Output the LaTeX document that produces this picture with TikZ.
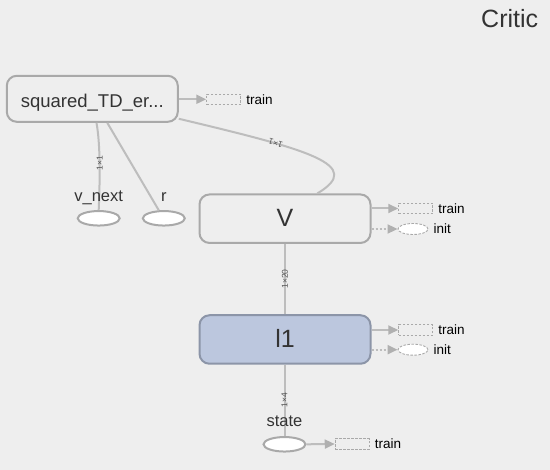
\documentclass[tikz,border=0pt]{standalone}
\usepackage{fontspec}
\setmainfont{Liberation Sans}
\usetikzlibrary{arrows.meta,shapes.geometric}
\definecolor{bg}{HTML}{EEEEEE}
\definecolor{boxline}{HTML}{A9A9A9}
\definecolor{edgecol}{HTML}{BDBDBD}
\definecolor{tipcol}{HTML}{B0B0B0}
\definecolor{lfill}{HTML}{BCC7DE}
\definecolor{lline}{HTML}{8C95A8}
\definecolor{txt}{HTML}{333333}
\definecolor{etxt}{HTML}{555555}
\begin{document}
\begin{tikzpicture}[x=1pt,y=-1pt,
 opbox/.style={draw=boxline, line width=2pt, rounded corners=10pt, fill=bg,
   minimum width=171pt, inner sep=0pt, text=txt, text depth=0pt},
 phnode/.style={ellipse, draw=boxline, line width=2pt, fill=white,
   minimum width=42pt, minimum height=14.5pt, inner sep=0pt},
 phlabel/.style={anchor=base, text=txt, font=\fontsize{16.5}{16.5}\selectfont, inner sep=0pt},
 trainbox/.style={draw=boxline, line width=0.9pt, dash pattern=on 2.5pt off 1.5pt,
   minimum width=34pt, minimum height=10.5pt, inner sep=0pt, fill=bg},
 initell/.style={ellipse, draw=boxline, line width=0.9pt, dash pattern=on 2.5pt off 1.5pt,
   fill=white, minimum width=30pt, minimum height=11pt, inner sep=0pt},
 auxtext/.style={anchor=west, font=\fontsize{13.5}{13.5}\selectfont, inner sep=0pt, text=black},
 ctrl/.style={draw=edgecol, line width=2pt, -{Triangle[length=10pt,width=9pt,fill=tipcol,color=tipcol]}},
 depline/.style={ctrl, dash pattern=on 2pt off 2pt},
 flow/.style={draw=edgecol, line width=2pt},
 elabel/.style={font=\fontsize{8.5}{8.5}\selectfont, text=etxt, inner sep=0.5pt},
]
\fill[bg] (0,0) rectangle (550,470);
\useasboundingbox (0,0) rectangle (550,470);

% title
\node[font=\fontsize{25}{25}\selectfont, text=txt, anchor=base, inner sep=0pt] (critic) at (509.7,27.3) {Critic};

% op boxes
\node[opbox, minimum height=46pt, text height=17pt, font=\fontsize{18.5}{18.5}\selectfont] (sq) at (92.3,98.8) {squared\_TD\_er...};
\node[opbox, minimum height=48.5pt, text height=16.5pt, font=\fontsize{25}{25}\selectfont] (V) at (285,218.7) {V};
\node[opbox, fill=lfill, draw=lline, minimum height=48.5pt, text height=16.5pt, font=\fontsize{25}{25}\selectfont] (l1) at (285,339.5) {l1};

% placeholders
\node[phnode] (vnext) at (98.7,218.3) {};
\node[phnode] (r) at (163.8,218.3) {};
\node[phnode] (state) at (284.5,444.3) {};

% auxiliary train / init
\node[trainbox] (sqtrain) at (223.7,99.3) {};
\node[auxtext] (sqtraint) at ([xshift=5pt]sqtrain.east) {train};
\node[trainbox] (Vtrain) at (415.7,208.5) {};
\node[auxtext] (Vtraint) at ([xshift=5pt]Vtrain.east) {train};
\node[initell] (Vinit) at (413,229) {};
\node[auxtext] (Vinitt) at ([xshift=5pt]Vinit.east) {init};
\node[trainbox] (ltrain) at (415.7,330) {};
\node[auxtext] (ltraint) at ([xshift=5pt]ltrain.east) {train};
\node[initell] (linit) at (413,349.7) {};
\node[auxtext] (linitt) at ([xshift=5pt]linit.east) {init};
\node[trainbox] (strain) at (352.2,444) {};
\node[auxtext] (straint) at ([xshift=5pt]strain.east) {train};

% control / init connectors
\draw[ctrl] (sq.east |- sqtrain.west) -- (sqtrain.west);
\draw[ctrl] (V.east |- Vtrain.west) -- (Vtrain.west);
\draw[depline] (V.east |- Vinit.west) -- (Vinit.west);
\draw[ctrl] (l1.east |- ltrain.west) -- (ltrain.west);
\draw[depline] (l1.east |- linit.west) -- (linit.west);
\draw[ctrl] (state.east) -- (strain.west);

% data edges
\draw[flow] ([xshift=4.2pt]sq.south) .. controls (100.5,145) and (100,180) .. (vnext.north)
  node[elabel, rotate=90, pos=0.5] (e1) {1×1};
\draw[flow] ([xshift=15pt]sq.south) -- (r.122);
\draw[flow] (sq.-13) .. controls (310,150) and (365,165) .. (V.38)
  node[elabel, rotate=163, pos=0.3] (e2) {1×1};
\draw[flow] (V.south) -- node[elabel, rotate=90] (e3) {1×20} (l1.north);
\draw[flow] (l1.south -| state.north) -- node[elabel, rotate=90] (e4) {1×4} (state.north);

% placeholder labels
\node[phlabel] (vnextlbl) at (98.7,201.7) {v\_next};
\node[phlabel] (rlbl) at (163.8,201.7) {r};
\node[phlabel] (statelbl) at (284.5,426.7) {state};
\end{tikzpicture}
\end{document}
